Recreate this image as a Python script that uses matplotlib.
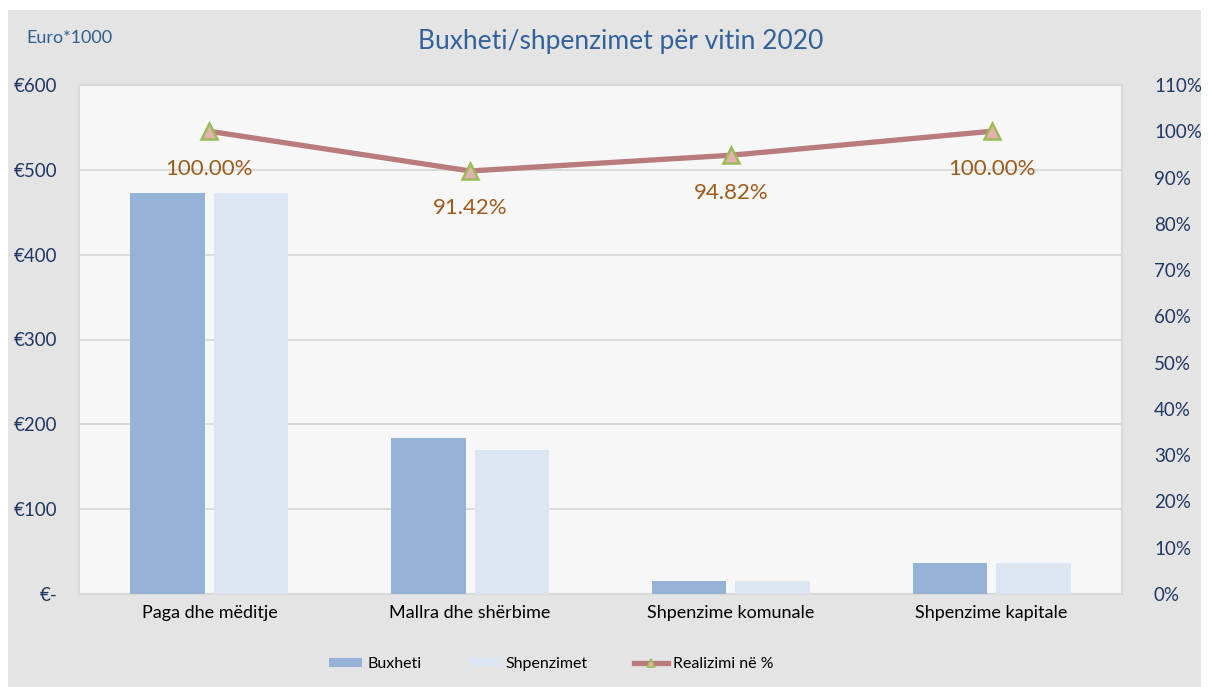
import matplotlib
matplotlib.use("Agg")
import matplotlib.pyplot as plt
from matplotlib.patches import Rectangle
from matplotlib.lines import Line2D
import numpy as np

categories = ["Paga dhe mëditje", "Mallra dhe shërbime", "Shpenzime komunale", "Shpenzime kapitale"]
buxheti = [473, 184, 15, 36]
shpenzimet = [473, 170, 15, 36]
realizimi = [100.00, 91.42, 94.82, 100.00]
left_ticks = [0, 100, 200, 300, 400, 500, 600]
left_labels = ["€-", "€100", "€200", "€300", "€400", "€500", "€600"]
right_ticks = list(range(0, 111, 10))

plt.rcParams['font.family'] = ['Lato', 'DejaVu Sans']

W, H = 1208, 687
fig = plt.figure(figsize=(W/100, H/100), dpi=100, facecolor="white")
bg = Rectangle((8/W, 0), (1201-8)/W, (687-10)/H, transform=fig.transFigure,
               facecolor="#E4E4E4", edgecolor="none", zorder=-10)
fig.patches.append(bg)

ax = fig.add_axes([79/W, 1-594/H, (1122-79)/W, (594-85)/H])
ax.set_facecolor("#F7F7F7")
for s in ax.spines.values():
    s.set_color("#D9D9D9")
    s.set_linewidth(1.5)

x = np.arange(len(categories))
bw = 0.285
off = 0.16
ax.bar(x - off, buxheti, bw, color="#95B3D7", zorder=3, label="Buxheti")
ax.bar(x + off, shpenzimet, bw, color="#DCE6F2", zorder=3, label="Shpenzimet")
ax.set_xlim(-0.5, 3.5)
ax.set_ylim(0, 600)
ax.set_yticks(left_ticks)
ax.set_yticklabels(left_labels)
ax.yaxis.grid(True, color="#D9D9D9", lw=1.3, zorder=0)
ax.set_axisbelow(True)
ax.tick_params(axis="y", length=0, pad=15.5, labelsize=13.5, labelcolor="#1F3864")
ax.set_xticks(x)
ax.set_xticklabels(categories)
ax.tick_params(axis="x", length=0, pad=8, labelsize=13, labelcolor="black")

ax2 = ax.twinx()
ax2.set_ylim(0, 110)
ax2.set_yticks(right_ticks)
ax2.set_yticklabels([f"{t}%" for t in right_ticks])
ax2.tick_params(axis="y", length=0, pad=23, labelsize=13.5, labelcolor="#1F3864")
for s in ax2.spines.values():
    s.set_visible(False)
ax2.plot(x, realizimi, color="#B97B7B", lw=3.8, marker="^", markersize=11,
         markerfacecolor="#E6B2B0", markeredgecolor="#9BBB59", markeredgewidth=1.8,
         zorder=5, label="Realizimi në %")
for xi, v in zip(x, realizimi):
    ax2.annotate(f"{v:.2f}%", (xi, v), xytext=(0, -27), textcoords="offset points",
                 ha="center", va="center", fontsize=16, color="#9E5A1C")

fig.text(26/W, 1-38/H, "Euro*1000", fontsize=13, color="#2F5F8F", ha="left", va="center")
fig.text(621/W, 1-42/H, "Buxheti/shpenzimet për vitin 2020", fontsize=19,
         color="#33619A", ha="center", va="center")

handles = [Rectangle((0, 0), 1, 1, facecolor="#95B3D7"),
           Rectangle((0, 0), 1, 1, facecolor="#DCE6F2"),
           Line2D([], [], color="#B97B7B", lw=3.8, marker="^", markersize=6,
                  markerfacecolor="#E6B2B0", markeredgecolor="#9BBB59", markeredgewidth=1.2)]
leg = fig.legend(handles, ["Buxheti", "Shpenzimet", "Realizimi në %"],
                 loc="center", bbox_to_anchor=(551/W, 1-664/H), ncol=3, frameon=False,
                 fontsize=11.5, handlelength=2.1, handleheight=0.5, columnspacing=2.9,
                 handletextpad=0.3)

fig.savefig("out.png", dpi=100, facecolor="white")
